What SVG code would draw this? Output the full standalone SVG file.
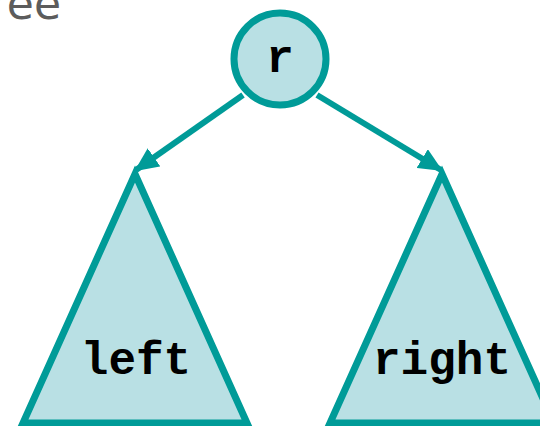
<svg xmlns="http://www.w3.org/2000/svg" width="540" height="426" viewBox="0 0 540 426">
<style>
.shape{fill:#b9e0e4;stroke:#009b98;stroke-width:7;stroke-linejoin:miter}
.lbl{font-family:"Liberation Mono","Courier New",monospace;font-weight:bold;fill:#000;text-anchor:middle}
.edge{stroke:#009b98;stroke-width:6;fill:none}
</style>
<defs>
<marker id="arr" markerWidth="24" markerHeight="22" refX="22" refY="11" orient="auto" markerUnits="userSpaceOnUse">
<path d="M0,0 L24,11 L0,22 z" fill="#009b98"/>
</marker>
</defs>
<text x="61" y="19" font-family="DejaVu Sans,Verdana,sans-serif" font-size="44" fill="#5c5c5c" text-anchor="end">Tree</text>
<g id="connectors">
<line class="edge" x1="243" y1="95" x2="136" y2="170" marker-end="url(#arr)"/>
<line class="edge" x1="317" y1="95" x2="441" y2="170" marker-end="url(#arr)"/>
</g>
<g id="node-r">
<circle class="shape" cx="280" cy="59" r="46"/>
<text class="lbl" x="280" y="72" font-size="46">r</text>
</g>
<g id="node-left">
<polygon class="shape" points="135,174 247,423 23,423"/>
<text class="lbl" x="136" y="374" font-size="46">left</text>
</g>
<g id="node-right">
<polygon class="shape" points="442,174 554,423 330,423"/>
<text class="lbl" x="442" y="374" font-size="46">right</text>
</g>
</svg>
